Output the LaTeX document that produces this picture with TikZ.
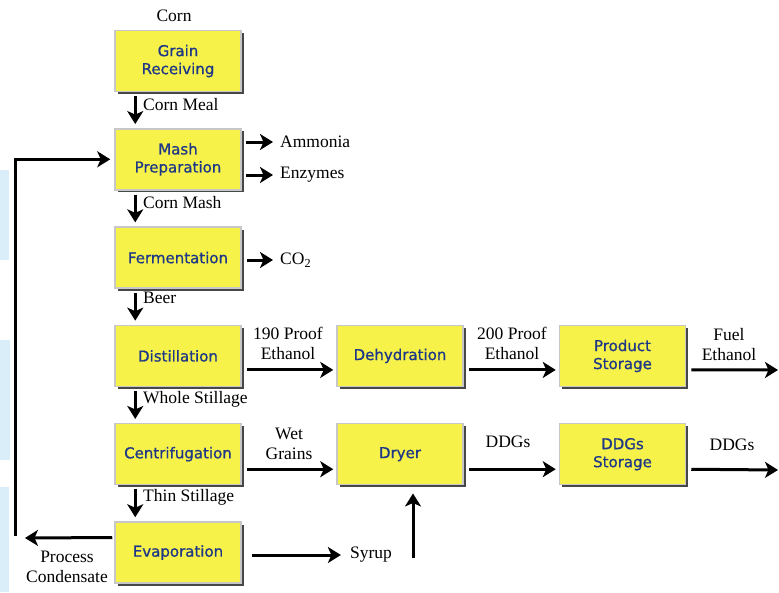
\documentclass[tikz,border=0pt]{standalone}
\usepackage{fontspec}
\setmainfont{Liberation Serif}
\newfontfamily\boxfont[FakeBold=0.8]{DejaVu Sans}
\usetikzlibrary{arrows.meta,shadows}
\definecolor{boxyellow}{RGB}{246,242,74}
\definecolor{boxblue}{RGB}{30,55,135}
\definecolor{edgeblue}{RGB}{218,238,250}
\tikzset{
  stage/.style = {rectangle, fill=boxyellow, draw=black!22, line width=1.5pt,
                  minimum width=126pt, minimum height=61pt, inner sep=0pt,
                  align=center, text=boxblue,
                  font=\boxfont\fontsize{15}{18}\selectfont,
                  drop shadow={shadow xshift=2.5pt, shadow yshift=-2.5pt,
                               fill=black!72, opacity=1}},
  stream/.style = {font=\fontsize{17.5}{20}\selectfont, align=center, inner sep=2pt},
  flow/.style = {line width=3pt, -{Stealth[length=13pt,width=16pt,inset=3.5pt]}}
}

\begin{document}
\begin{tikzpicture}[x=1pt, y=-1pt]
	\def \colA{178}
	\def \colB{400}
	\def \colC{622.5}
	\def \h{98.3}
	\def \dn{21}
	
	\useasboundingbox (0,0) rectangle (779,592);
	
	% Edge tint
	\fill[edgeblue] (0,170) rectangle (9,260);
	\fill[edgeblue] (0,340) rectangle (10,460);
	\fill[edgeblue] (0,487) rectangle (9,592);
	
	% Stages
	\node[stage] (grain) at (\colA,61+0*\h) {Grain\\Receiving};
	\node[stage] (mash)  at (\colA,61+1*\h) {Mash\\Preparation};
	\node[stage] (ferm)  at (\colA,61+2*\h) {Fermentation};
	\node[stage] (dist)  at (\colA,61+3*\h) {Distillation};
	\node[stage] (centr) at (\colA,61+4*\h) {Centrifugation};
	\node[stage] (evap)  at (\colA,61+5*\h) {Evaporation};
	\node[stage] (dehyd) at (\colB,61+3*\h) {Dehydration};
	\node[stage] (dryer) at (\colB,61+4*\h) {Dryer};
	\node[stage] (prod)  at (\colC,61+3*\h) {Product\\Storage};
	\node[stage] (ddgst) at (\colC,61+4*\h) {DDGs\\Storage};
	
	% Streams
	\node[stream] (corn) at (174,16) {Corn};
	\node[stream, anchor=west] (meal)  at (141,105) {Corn Meal};
	\node[stream, anchor=west] (cmash) at (141,203) {Corn Mash};
	\node[stream, anchor=west] (beer)  at (141,298) {Beer};
	\node[stream, anchor=west] (whole) at (141,399) {Whole Stillage};
	\node[stream, anchor=west] (thin)  at (141,497) {Thin Stillage};
	\node[stream, anchor=west] (ammonia) at (278,142) {Ammonia};
	\node[stream, anchor=west] (enzymes) at (278,175) {Enzymes};
	\node[stream, anchor=west] (co2)     at (278,260) {CO\textsubscript{2}};
	\node[stream] (proofA) at (288,343) {190 Proof\\Ethanol};
	\node[stream] (wet)    at (289,444) {Wet\\Grains};
	\node[stream] (proofB) at (512,343) {200 Proof\\Ethanol};
	\node[stream] (fuel)   at (729,345) {Fuel\\Ethanol};
	\node[stream] (ddgsA)  at (508,442) {DDGs};
	\node[stream] (ddgsB)  at (732,445) {DDGs};
	\node[stream] (syrup)  at (371,555) {Syrup};
	\node[stream] (cond)   at (67,567) {Process\\Condensate};
	
	\coordinate (fuelout) at (778,370);
	\coordinate (ddgsout) at (778,470);
	\coordinate (syrupup) at (413,558);
	\coordinate (condout) at (25,538);
	\coordinate (recycle) at (15,536);
	
	% Main line
	\draw[flow, shorten <=4pt, shorten >=4pt] ([xshift=\dn pt]grain.south west) -- ([xshift=\dn pt]mash.north west);
	\draw[flow, shorten <=4pt, shorten >=4pt] ([xshift=\dn pt]mash.south west)  -- ([xshift=\dn pt]ferm.north west);
	\draw[flow, shorten <=4pt, shorten >=4pt] ([xshift=\dn pt]ferm.south west)  -- ([xshift=\dn pt]dist.north west);
	\draw[flow, shorten <=4pt, shorten >=4pt] ([xshift=\dn pt]dist.south west)  -- ([xshift=\dn pt]centr.north west);
	\draw[flow, shorten <=4pt, shorten >=4pt] ([xshift=\dn pt]centr.south west) -- ([xshift=\dn pt]evap.north west);
	
	% Side products
	\draw[flow, shorten <=4pt, shorten >=5pt] (mash.east |- ammonia.west) -- (ammonia.west);
	\draw[flow, shorten <=4pt, shorten >=5pt] (mash.east |- enzymes.west) -- (enzymes.west);
	\draw[flow, shorten <=5pt, shorten >=5pt] (ferm.east |- co2.west) -- (co2.west);
	
	% Ethanol line
	\draw[flow, shorten <=5pt, shorten >=3pt] ([yshift=-14pt]dist.east)  -- ([yshift=-14pt]dehyd.west);
	\draw[flow, shorten <=5pt, shorten >=3pt] ([yshift=-14pt]dehyd.east) -- ([yshift=-14pt]prod.west);
	\draw[flow, shorten <=5pt] ([yshift=-14pt]prod.east) -- (fuelout);
	
	% Grains line
	\draw[flow, shorten <=5pt, shorten >=3pt] ([yshift=-15pt]centr.east) -- ([yshift=-15pt]dryer.west);
	\draw[flow, shorten <=5pt, shorten >=3pt] ([yshift=-15pt]dryer.east) -- ([yshift=-15pt]ddgst.west);
	\draw[flow, shorten <=5pt] ([yshift=-15pt]ddgst.east) -- (ddgsout);
	
	% Syrup and condensate
	\draw[flow, shorten <=10pt, shorten >=7pt] (evap.east |- syrup.west) -- (syrup.west);
	\draw[flow, shorten >=8pt] (syrupup) -- (syrupup |- dryer.south);
	\draw[flow, shorten <=2pt] ([yshift=15pt]evap.west) -- (condout);
	\draw[flow, shorten >=4pt] (recycle) |- (mash.west);
	
\end{tikzpicture}
\end{document}
